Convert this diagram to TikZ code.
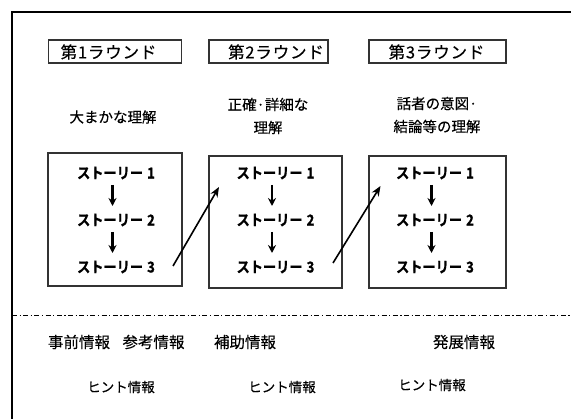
\documentclass[tikz,border=0pt]{standalone}
\usepackage{fontspec}
\setmainfont{Noto Sans CJK JP}
\newfontfamily\heavyfont[FakeBold=0.3]{Noto Sans CJK JP}
\newfontfamily\storyfont[FakeBold=0.8,FakeStretch=0.88]{Noto Sans CJK JP Bold}
\usetikzlibrary{arrows.meta}
\begin{document}
\begin{tikzpicture}[x=1pt,y=-1pt,
  roundbox/.style={draw=black!80,line width=1.2pt,minimum height=23pt,inner sep=0pt},
  roundtext/.style={font=\heavyfont\fontsize{16.5}{18}\selectfont\addfontfeature{LetterSpace=5},inner sep=0pt},
  storybox/.style={draw=black!80,line width=1.2pt,inner sep=0pt},
  goal/.style={font=\heavyfont\fontsize{14.5}{23}\selectfont,align=center,inner sep=0pt},
  story/.style={font=\storyfont\fontsize{15}{17}\selectfont,inner sep=0pt},
  info/.style={font=\heavyfont\fontsize{15.5}{17}\selectfont,inner sep=0pt},
  hint/.style={font=\heavyfont\fontsize{13.5}{15}\selectfont,inner sep=0pt},
  down/.style={-{Stealth[length=8pt,width=8pt]},line width=2.4pt},
  jump/.style={-{Stealth[length=10pt,width=8pt]},line width=1.6pt}]
\useasboundingbox (0,0) rectangle (571,419);
\fill[white] (0,0) rectangle (571,419);
% outer frame (top and left edges)
\coordinate (fbl) at (12,419);
\coordinate (ftl) at (12,12);
\coordinate (ftr) at (571,12);
\draw[line width=1.2pt] (ftl) -- (ftr);
\draw[line width=2.2pt] (fbl) -- (12,11.4);
% round labels
\node[roundbox,minimum width=133pt] (r1) at (115,51.5) {};
\node[roundbox,minimum width=119pt] (r2) at (268.5,51.5) {};
\node[roundbox,minimum width=137pt] (r3) at (437.5,51.5) {};
\node[roundtext] (l1) at (108.5,52) {第1ラウンド};
\node[roundtext] (l2) at (276,52) {第2ラウンド};
\node[roundtext] (l3) at (436.5,52) {第3ラウンド};
% goals
\node[goal] (g1) at (113,117) {大まかな理解};
\node[goal] (g2) at (268,116) {正確·詳細な\\理解};
\node[goal] (g3) at (437,115) {話者の意図·\\結論等の理解};
% story boxes
\node[storybox,minimum width=134pt,minimum height=133pt] (b1) at (115,219.5) {};
\node[storybox,minimum width=133pt,minimum height=132pt] (b2) at (275.5,222) {};
\node[storybox,minimum width=137pt,minimum height=132pt] (b3) at (437.5,222) {};
% stories
\foreach \i/\x in {1/116,2/275.5,3/435}{
  \node[story] (s\i1) at (\x,173) {ストーリー\hspace{4pt}1};
  \node[story] (s\i2) at (\x,220) {ストーリー\hspace{4pt}2};
  \node[story] (s\i3) at (\x,267) {ストーリー\hspace{4pt}3};
  \draw[down] ([xshift=-3.5pt,yshift=-12pt]s\i1.center) -- ([xshift=-3.5pt,yshift=-33pt]s\i1.center);
  \draw[down] ([xshift=-3.5pt,yshift=-12pt]s\i2.center) -- ([xshift=-3.5pt,yshift=-33pt]s\i2.center);
}
% jumps between rounds
\coordinate (j1a) at (173,266);
\coordinate (j1b) at (219,187);
\coordinate (j2a) at (333,263);
\coordinate (j2b) at (380.5,186);
\draw[jump] (j1a) -- (j1b);
\draw[jump] (j2a) -- (j2b);
% separator
\coordinate (sepl) at (12,315);
\coordinate (sepr) at (571,315);
\draw[line width=0.9pt,dash pattern=on 5pt off 2.5pt on 1.2pt off 2.5pt] (sepl) -- (sepr);
% info labels
\node[info] (i1) at (79,342) {事前情報};
\node[info] (i2) at (153.5,342) {参考情報};
\node[info] (i3) at (245,342) {補助情報};
\node[info] (i4) at (464,342) {発展情報};
\node[hint] (h1) at (121,387) {ヒント情報};
\node[hint] (h2) at (282,387) {ヒント情報};
\node[hint] (h3) at (432,385) {ヒント情報};
\end{tikzpicture}
\end{document}
